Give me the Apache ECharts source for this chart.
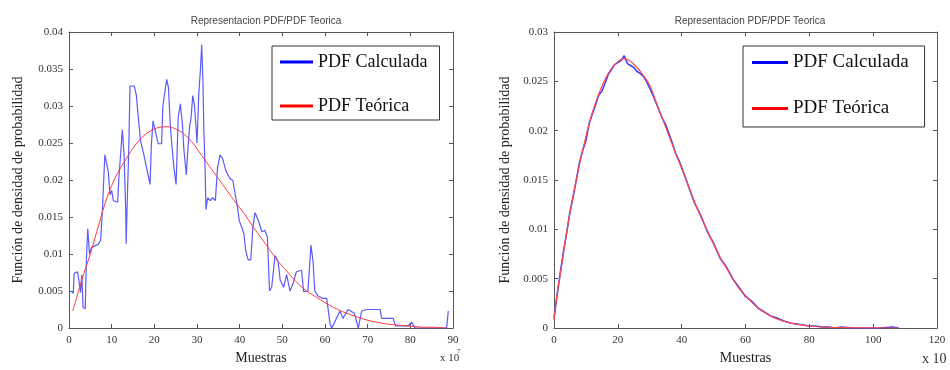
<!DOCTYPE html>
<html><head><meta charset="utf-8">
<script src="https://cdn.jsdelivr.net/npm/echarts@6/dist/echarts.min.js"></script>
<style>html,body{margin:0;padding:0;background:#fff}#c{width:950px;height:370px}</style>
</head><body><div id="c"></div>
<script>
// ---- Data ----
const titleText = 'Representacion PDF/PDF Teorica';
const seriesNames = ['PDF Calculada', 'PDF Teórica'];
const yLabel = 'Función de densidad de probabilidad';
const xLabel = 'Muestras';

// Left panel
const leftXTicks = {min: 0, max: 90, interval: 10};
const leftYTicks = {min: 0, max: 0.04, interval: 0.005};
const leftBlueX = [0.5,1.0,1.2,2.0,2.3,2.7,3.0,3.3,3.8,4.1,
  4.4,4.8,5.3,6.0,6.8,7.4,7.8,8.0,8.4,8.8,
  9.2,9.6,10.0,10.4,10.8,11.4,11.7,12.1,12.5,12.9,
  13.3,13.4,13.6,14.0,14.3,15.3,15.8,16.2,16.8,17.4,
  18.2,19.0,19.3,19.7,20.1,20.9,21.7,22.0,22.9,23.3,
  23.7,24.1,24.6,25.1,25.6,26.1,26.6,26.9,27.5,27.9,
  28.3,28.6,29.0,29.4,29.8,30.0,30.4,30.8,31.1,31.4,
  31.6,31.9,32.1,32.5,33.1,33.7,34.3,34.8,35.4,36.0,
  36.8,37.6,38.4,39.1,39.5,39.9,40.5,41.0,41.4,42.0,
  42.6,43.1,43.6,44.4,45.2,45.9,46.5,47.0,47.5,48.3,
  49.0,49.5,50.3,51.0,51.8,52.5,53.3,54.5,55.0,56.0,
  56.7,57.2,57.6,58.4,59.6,60.4,61.2,61.6,62.2,63.5,
  64.2,65.4,66.9,67.8,68.6,69.8,72.9,73.3,76.0,76.5,
  79.5,80.3,81.1,88.5,88.9];
const leftBlueY = [0.0050,0.0047,0.0074,0.0076,0.0065,0.0048,0.0072,0.0028,0.0026,0.0096,
  0.0134,0.0100,0.0109,0.0111,0.0113,0.0118,0.0155,0.0182,0.0234,0.0236,
  0.0212,0.0180,0.0186,0.0172,0.0170,0.0170,0.0203,0.0235,0.0268,0.0235,
  0.0158,0.0114,0.0160,0.0240,0.0327,0.0327,0.0314,0.0287,0.0252,0.0238,
  0.0216,0.0194,0.0247,0.0280,0.0269,0.0249,0.0249,0.0300,0.0336,0.0325,
  0.0279,0.0247,0.0216,0.0194,0.0285,0.0303,0.0274,0.0243,0.0207,0.0245,
  0.0274,0.0283,0.0314,0.0301,0.0269,0.0250,0.0314,0.0349,0.0383,0.0332,
  0.0269,0.0216,0.0160,0.0176,0.0172,0.0176,0.0172,0.0216,0.0234,0.0229,
  0.0212,0.0203,0.0199,0.0176,0.0163,0.0145,0.0136,0.0127,0.0105,0.0092,
  0.0092,0.0136,0.0156,0.0145,0.0130,0.0132,0.0123,0.0050,0.0055,0.0098,
  0.0090,0.0065,0.0055,0.0072,0.0050,0.0060,0.0076,0.0078,0.0049,0.0050,
  0.0112,0.0090,0.0050,0.0043,0.0040,0.0040,0.0005,0.0000,0.0007,0.0023,
  0.0013,0.0025,0.0020,0.0000,0.0023,0.0025,0.0025,0.0013,0.0013,0.0003,
  0.0003,0.0008,0.0000,0.0000,0.0023];
const leftRedX = [0.9,3,5,7,9,11,13,15,17,19,21,23,25,27,29,31,33,35,37,39,41,43,45,47,49,51,53,55,57,59,61,63,65,67,69,71,73,75,77,79,81,83,85,88.5];
const leftRedY = [0.0023,0.0065,0.0100,0.0140,0.0178,0.0205,0.0225,0.0243,0.0257,0.0266,
  0.0271,0.0272,0.0269,0.0262,0.0250,0.0234,0.0218,0.0202,0.0186,0.0170,
  0.0155,0.0138,0.0122,0.0106,0.0090,0.0077,0.0064,0.0053,0.0045,0.0038,
  0.0031,0.0025,0.0020,0.0016,0.0012,0.0009,0.0007,0.0005,0.0004,0.0003,
  0.0002,0.0001,0.0001,0.0000];

// Right panel
const rightXTicks = {min: 0, max: 120, interval: 20};
const rightYTicks = {min: 0, max: 0.03, interval: 0.005};
const rightBlueX = [0,1,2,3,4,5,6,7,8,9,10,11,12,13,14,15,16,17,18,19,20,21,22,23,24,25,26,27,28,29,30,
  31,32,33,34,35,36,37,38,39,40,42,44,46,48,50,52,54,56,58,60,62,64,66,68,70,72,74,76,78,80,
  82,84,86,88,90,94,98,102,106,108];
const rightBlueY = [0.0010,0.0034,0.0057,0.0078,0.0097,0.0118,0.0133,0.0150,0.0168,0.0180,0.0190,
  0.0207,0.0217,0.0226,0.0236,0.0240,0.0248,0.0257,0.0262,0.0267,0.0269,
  0.0271,0.0276,0.0268,0.0266,0.0264,0.0260,0.0258,0.0255,0.0250,0.0243,
  0.0236,0.0228,0.0220,0.0212,0.0206,0.0197,0.0188,0.0178,0.0171,0.0163,
  0.0145,0.0127,0.0114,0.0098,0.0086,0.0071,0.0062,0.0050,0.0041,0.0032,
  0.0027,0.0020,0.0016,0.0012,0.0010,0.0007,0.0005,0.0004,0.0003,0.0002,
  0.0002,0.0001,0.0001,0.0000,0.0001,0.0000,0.0000,0.0000,0.0001,0.0000];
const rightRedX = [0,1,2,4,6,8,10,12,14,16,18,20,22,24,26,28,30,32,34,36,38,40,42,44,46,48,50,
  52,54,56,58,60,62,64,66,68,70,72,74,76,78,80,84,88,92,96,100,104,108];
const rightRedY = [0.0008,0.0035,0.0055,0.0098,0.0134,0.0166,0.0194,0.0218,0.0237,0.0252,0.0263,
  0.0270,0.0273,0.0270,0.0264,0.0256,0.0246,0.0229,0.0212,0.0195,0.0178,
  0.0162,0.0145,0.0128,0.0113,0.0099,0.0085,0.0072,0.0061,0.0050,0.0040,
  0.0033,0.0026,0.0020,0.0016,0.0012,0.0009,0.0007,0.0005,0.0004,0.0003,
  0.0002,0.0001,0.00005,0.00003,0.00002,0.00001,0.0,0.0];

// ---- Chart ----
const zip = (xs, ys) => xs.map((x, i) => [x, ys[i]]);
const serif = 'Liberation Serif';
const axisCol = '#555';

function panelAxes(gi, xt, yt, yNameGap) {
  const tick = {show: true, inside: true, length: 4, lineStyle: {color: axisCol}};
  const line = {show: true, onZero: false, lineStyle: {color: axisCol, width: 1}};
  return {
    x: [
      {type: 'value', gridIndex: gi, position: 'bottom', min: xt.min, max: xt.max, interval: xt.interval,
       axisLine: line, axisTick: tick, splitLine: {show: false},
       axisLabel: {fontFamily: serif, fontSize: 11, color: '#333', margin: 7},
       name: xLabel, nameLocation: 'middle', nameGap: 23,
       nameTextStyle: {fontFamily: serif, fontSize: 14, color: '#222'}},
      {type: 'value', gridIndex: gi, position: 'top', min: xt.min, max: xt.max, interval: xt.interval,
       axisLine: line, axisTick: tick, splitLine: {show: false}, axisLabel: {show: false}}
    ],
    y: [
      {type: 'value', gridIndex: gi, position: 'left', min: yt.min, max: yt.max, interval: yt.interval,
       axisLine: line, axisTick: tick, splitLine: {show: false},
       axisLabel: {fontFamily: serif, fontSize: 11, color: '#333', margin: 6},
       name: yLabel, nameLocation: 'middle', nameRotate: 90, nameGap: yNameGap,
       nameTextStyle: {fontFamily: serif, fontSize: 14, color: '#222'}},
      {type: 'value', gridIndex: gi, position: 'right', min: yt.min, max: yt.max, interval: yt.interval,
       axisLine: line, axisTick: tick, splitLine: {show: false}, axisLabel: {show: false}}
    ]
  };
}
const L = panelAxes(0, leftXTicks, leftYTicks, 44);
const R = panelAxes(1, rightXTicks, rightYTicks, 42);

function legendFor(left, fontSize, lineH, gap, pad, iw) {
  return {
    left: left, top: 46, orient: 'vertical', icon: 'rect', itemWidth: iw, itemHeight: 3,
    itemGap: gap, padding: pad, borderColor: '#333', borderWidth: 1, backgroundColor: '#fff',
    borderRadius: 0, selectedMode: false,
    textStyle: {fontFamily: serif, fontSize: fontSize, lineHeight: lineH, color: '#111'},
    data: [
      {name: seriesNames[0], itemStyle: {color: '#0000ff'}, lineStyle: {color: '#0000ff'}},
      {name: seriesNames[1], itemStyle: {color: '#ff0000'}, lineStyle: {color: '#ff0000'}}
    ]
  };
}

const chart = echarts.init(document.getElementById('c'), null, {renderer: 'canvas'});
chart.setOption({
  animation: false,
  backgroundColor: '#fff',
  title: [
    {text: titleText, left: 261, top: 11, textAlign: 'center',
     textStyle: {fontFamily: 'Liberation Sans', fontSize: 10, fontWeight: 'normal', color: '#444'}},
    {text: titleText, left: 745, top: 11, textAlign: 'center',
     textStyle: {fontFamily: 'Liberation Sans', fontSize: 10, fontWeight: 'normal', color: '#444'}}
  ],
  grid: [
    {left: 69, top: 32, width: 384, height: 300},
    {left: 554, top: 32, width: 383, height: 300}
  ],
  xAxis: [L.x[0], L.x[1], R.x[0], R.x[1]],
  yAxis: [L.y[0], L.y[1], R.y[0], R.y[1]],
  legend: [
    legendFor(272, 18, 20, 24, [6, 12, 4, 8], 33),
    legendFor(743, 19, 21, 25, [6, 16, 8, 9], 36)
  ],
  series: [
    {name: seriesNames[0], type: 'line', xAxisIndex: 0, yAxisIndex: 0, data: zip(leftBlueX, leftBlueY),
     showSymbol: false, lineStyle: {color: '#5a5aff', width: 1.2}, itemStyle: {color: '#0000ff'}, z: 2},
    {name: seriesNames[1], type: 'line', xAxisIndex: 0, yAxisIndex: 0, data: zip(leftRedX, leftRedY),
     showSymbol: false, smooth: 0.3, lineStyle: {color: '#ff3b3b', width: 1}, itemStyle: {color: '#ff0000'}, z: 3},
    {name: seriesNames[0], type: 'line', xAxisIndex: 2, yAxisIndex: 2, data: zip(rightBlueX, rightBlueY),
     showSymbol: false, lineStyle: {color: '#4040ff', width: 1.6}, itemStyle: {color: '#0000ff'}, z: 2},
    {name: seriesNames[1], type: 'line', xAxisIndex: 2, yAxisIndex: 2, data: zip(rightRedX, rightRedY),
     showSymbol: false, smooth: 0.3, lineStyle: {color: '#ff4a4a', width: 1.2}, itemStyle: {color: '#ff0000'}, z: 3}
  ],
  graphic: [
    {type: 'text', left: 440, top: 353, style: {text: 'x 10', font: '11px "Liberation Serif"', fill: '#333'}},
    {type: 'text', left: 457, top: 348, style: {text: '7', font: '7px "Liberation Serif"', fill: '#333'}},
    {type: 'text', left: 922, top: 352, style: {text: 'x 10', font: '14px "Liberation Serif"', fill: '#333'}}
  ]
});
</script>
</body></html>
